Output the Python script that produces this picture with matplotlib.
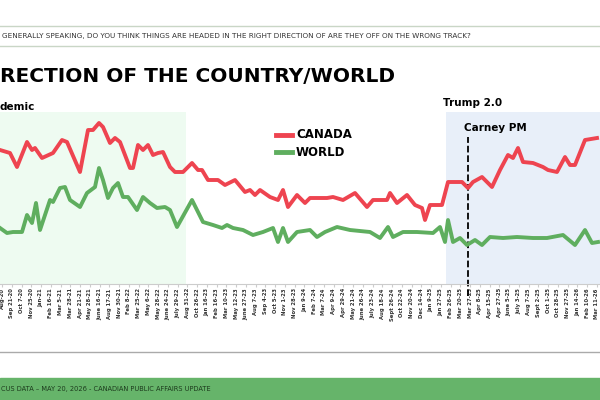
import matplotlib.pyplot as plt
from matplotlib.patches import Rectangle

# survey wave position (horizontal) and share saying "right direction" (arbitrary scale)
canada_x = [0, 10, 17, 27, 32, 35, 42, 53, 62, 67, 80, 88, 93, 99, 103, 110, 115, 120, 130, 133,
            138, 143, 148, 153, 158, 163, 170, 175, 183, 192, 198, 202, 208, 218, 225, 235, 245, 250,
            255, 260, 270, 278, 283, 288, 297, 305, 310, 327, 333, 343, 355, 367, 373, 387, 390, 397,
            407, 415, 422, 425, 430, 437, 442, 448, 462, 468, 473, 482, 492, 500, 508, 513, 518, 523,
            533, 543, 548, 557, 565, 570, 575, 585, 597]
canada = [150, 147, 133, 158, 150, 152, 142, 147, 160, 158, 128, 170, 170, 177, 173, 157, 162, 158,
          132, 132, 155, 150, 155, 145, 147, 148, 133, 128, 128, 137, 130, 130, 120, 120, 115, 120,
          108, 110, 105, 110, 103, 100, 110, 93, 105, 97, 102, 102, 103, 100, 107, 93, 100, 100, 107,
          97, 105, 95, 92, 80, 95, 95, 95, 118, 118, 112, 118, 123, 113, 130, 145, 142, 152, 138,
          137, 133, 130, 128, 143, 135, 135, 160, 162]
world_x = [0, 7, 13, 22, 27, 32, 36, 40, 50, 53, 60, 65, 70, 80, 87, 95, 99, 103, 108, 113, 118, 123,
           128, 137, 143, 150, 157, 165, 170, 177, 192, 203, 213, 222, 227, 233, 243, 253, 263, 273,
           278, 283, 288, 297, 310, 317, 325, 337, 350, 370, 380, 388, 393, 403, 417, 433, 440, 445,
           448, 453, 460, 467, 475, 482, 490, 503, 517, 533, 547, 563, 575, 585, 592, 598]
world = [72, 67, 68, 68, 85, 77, 97, 70, 100, 98, 112, 113, 100, 93, 107, 113, 132, 120, 102, 112,
         117, 103, 103, 90, 103, 97, 92, 93, 90, 73, 100, 78, 75, 72, 75, 72, 70, 65, 68, 72, 58, 72,
         58, 68, 70, 63, 68, 73, 70, 68, 62, 73, 63, 68, 68, 67, 73, 58, 80, 58, 62, 55, 60, 55, 63,
         62, 63, 62, 62, 65, 55, 70, 57, 58]

tick_labels = ["Aug-20", "Sep 21-20", "Oct 7-20", "Nov 25-20", "Jan-21", "Feb 16-21", "Mar 5-21",
               "Mar 28-21", "Apr 21-21", "May 28-21", "June 16-21", "Aug 17-21", "Nov 30-21",
               "Feb 8-22", "Mar 25-22", "May 6-22", "May 28-22", "June 24-22", "July 29-22",
               "Aug 31-22", "Oct 26-22", "Jan 16-23", "Feb 16-23", "Mar 10-23", "May 12-23",
               "June 27-23", "Aug 7-23", "Sep 4-23", "Oct 5-23", "Nov 1-23", "Nov 28-23",
               "Jan 9-24", "Feb 7-24", "Mar 7-24", "Apr 9-24", "Apr 29-24", "May 21-24",
               "June 26-24", "July 23-24", "Aug 18-24", "Sept 26-24", "Oct 22-24", "Nov 20-24",
               "Dec 14-24", "Jan 9-25", "Jan 27-25", "Feb 26-25", "Mar 20-25", "Mar 27-25",
               "Apr 8-25", "Apr 15-25", "Apr 27-25", "June 5-25", "July 3-25", "Aug 7-25",
               "Sept 2-25", "Oct 1-25", "Oct 28-25", "Nov 27-25", "Jan 14-26", "Feb 10-26",
               "Mar 11-26"]

fig = plt.figure(figsize=(6, 4), dpi=100)
fig.patch.set_facecolor('white')

# slide chrome
fig.add_artist(plt.Line2D([0, 1], [1 - 26/400] * 2, color='#c9d6c6', lw=1))
fig.add_artist(plt.Line2D([0, 1], [1 - 46/400] * 2, color='#c9d6c6', lw=1))
fig.text(0.003, 1 - 36/400, "GENERALLY SPEAKING, DO YOU THINK THINGS ARE HEADED IN THE RIGHT DIRECTION OF ARE THEY OFF ON THE WRONG TRACK?",
         fontsize=5.2, va='center', ha='left', color='#333333')
fig.text(0.0, 1 - 76/400, "RECTION OF THE COUNTRY/WORLD", fontsize=14.5, fontweight='bold',
         va='center', ha='left', color='black')
fig.add_artist(plt.Line2D([0, 1], [1 - 352/400] * 2, color='#aaaaaa', lw=1))
fig.add_artist(Rectangle((0, 0), 1, 22/400, transform=fig.transFigure, color='#66b46a'))
fig.text(0.002, 11/400, "CUS DATA – MAY 20, 2026 - CANADIAN PUBLIC AFFAIRS UPDATE", fontsize=4.8,
         va='center', ha='left', color='#1d3b1d')

ax = fig.add_axes([0, 1 - 284/400, 1, (284 - 112)/400])
ax.set_xlim(0, 600)
ax.set_ylim(16, 188)
for s in ['top', 'left', 'right']:
    ax.spines[s].set_visible(False)
ax.spines['bottom'].set_color('#cccccc')

ax.add_patch(Rectangle((0, 16), 186, 172, color='#eefbf1', lw=0, zorder=0))
ax.add_patch(Rectangle((446, 16), 160, 172, color='#e8eff9', lw=0, zorder=0))
ax.plot([468, 468], [4, 163], ls='--', color='black', lw=1.3, clip_on=False)

ax.plot(canada_x, canada, color='#ee4450', lw=2.8)
ax.plot(world_x, world, color='#5fae5f', lw=2.8)

ticks = [2 + i * (595 / (len(tick_labels) - 1)) for i in range(len(tick_labels))]
ax.set_xticks(ticks)
ax.set_xticklabels(tick_labels, rotation=90, fontsize=3.8, fontweight='bold', color='#333333')
ax.tick_params(axis='x', length=2, color='#cccccc', pad=1)
ax.set_yticks([])

ax.text(0, 193, "demic", fontsize=7.5, fontweight='bold', va='center', ha='left', clip_on=False)
ax.text(443, 197, "Trump 2.0", fontsize=7.5, fontweight='bold', va='center', ha='left', clip_on=False)
ax.text(464, 172, "Carney PM", fontsize=7.5, fontweight='bold', va='center', ha='left')

ax.plot([276, 292], [165, 165], color='#ee4450', lw=3.5)
ax.plot([276, 292], [148, 148], color='#5fae5f', lw=3.5)
ax.text(296, 165, "CANADA", fontsize=8.5, fontweight='bold', va='center')
ax.text(296, 148, "WORLD", fontsize=8.5, fontweight='bold', va='center')

fig.savefig('out.png', dpi=100)
